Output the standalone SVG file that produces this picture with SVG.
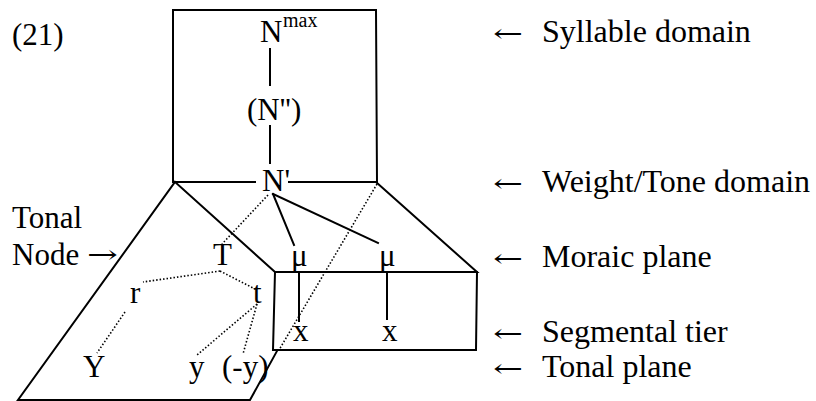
<svg xmlns="http://www.w3.org/2000/svg" width="816" height="401" viewBox="0 0 816 401">
<style>
text{font-family:"Liberation Serif","Times New Roman",serif;font-size:31px;fill:#000}
text.lab{font-size:32px}
text.sup{font-size:20px}
text.arr{font-family:"DejaVu Serif","DejaVu Sans",serif;font-size:25px}
.s{stroke:#000;stroke-width:2;fill:none;stroke-linecap:square}
.d{stroke:#000;stroke-width:1.6;fill:none;stroke-dasharray:1.5 2}
</style>
<rect width="816" height="401" fill="#fff"/>
<text x="12" y="45">(21)</text>
<g id="planes">
<path class="s" d="M255,182 L173,182 L173,10 L376,10 L377,182 L289,182"/>
<path class="s" d="M175,182 L18,400 L250,400 L277,351"/>
<path class="s" d="M175,182 L275,272 L477,272 L377,183"/>
<path class="s" d="M275,272 L273,350 L476,350 L477,272"/>
</g>
<g id="connectors">
<line class="s" x1="270" y1="49" x2="270" y2="85"/>
<line class="s" x1="270" y1="126" x2="270" y2="163"/>
<line class="s" x1="273" y1="194" x2="294" y2="245"/>
<line class="s" x1="273" y1="194" x2="378" y2="243"/>
<line class="s" x1="299" y1="272" x2="299" y2="321"/>
<line class="s" x1="387" y1="272" x2="387" y2="319"/>
<line class="d" x1="268" y1="195" x2="222" y2="244"/>
<line class="d" x1="377" y1="184" x2="279" y2="350"/>
<line class="d" x1="220" y1="271" x2="143" y2="282"/>
<line class="d" x1="220" y1="271" x2="257" y2="290"/>
<line class="d" x1="125" y1="312" x2="97" y2="353"/>
<line class="d" x1="257" y1="304" x2="197" y2="355"/>
<line class="d" x1="257" y1="304" x2="243" y2="354"/>
</g>
<g id="Nmax"><text x="260" y="42">N</text><text class="sup" x="283" y="27">max</text></g>
<g id="N2"><text x="247" y="120">(N'')</text></g>
<g id="N1"><text x="262" y="191">N'</text></g>
<g id="mu1"><text x="291" y="266">μ</text></g>
<g id="mu2"><text x="379" y="266">μ</text></g>
<g id="x1"><text x="293" y="341">x</text></g>
<g id="x2"><text x="382" y="341">x</text></g>
<g id="T"><text x="213" y="265">T</text></g>
<g id="r"><text x="130" y="303">r</text></g>
<g id="t"><text x="253" y="303">t</text></g>
<g id="Y"><text x="83" y="377">Y</text></g>
<g id="y"><text x="189" y="377">y</text></g>
<g id="negy"><text x="222" y="377">(-y)</text></g>
<g id="tonalnode"><text x="12" y="228">Tonal</text><text x="12" y="265">Node</text><text class="arr" x="87" y="263" textLength="31" lengthAdjust="spacingAndGlyphs">→</text></g>
<g id="labels">
<text class="arr" x="493" y="42" textLength="30" lengthAdjust="spacingAndGlyphs">←</text><text class="lab" x="542" y="42">Syllable domain</text>
<text class="arr" x="493" y="192" textLength="30" lengthAdjust="spacingAndGlyphs">←</text><text class="lab" x="542" y="192">Weight/Tone domain</text>
<text class="arr" x="493" y="267" textLength="30" lengthAdjust="spacingAndGlyphs">←</text><text class="lab" x="542" y="267">Moraic plane</text>
<text class="arr" x="493" y="342" textLength="30" lengthAdjust="spacingAndGlyphs">←</text><text class="lab" x="542" y="342">Segmental tier</text>
<text class="arr" x="493" y="377" textLength="30" lengthAdjust="spacingAndGlyphs">←</text><text class="lab" x="542" y="377">Tonal plane</text>
</g>
</svg>
